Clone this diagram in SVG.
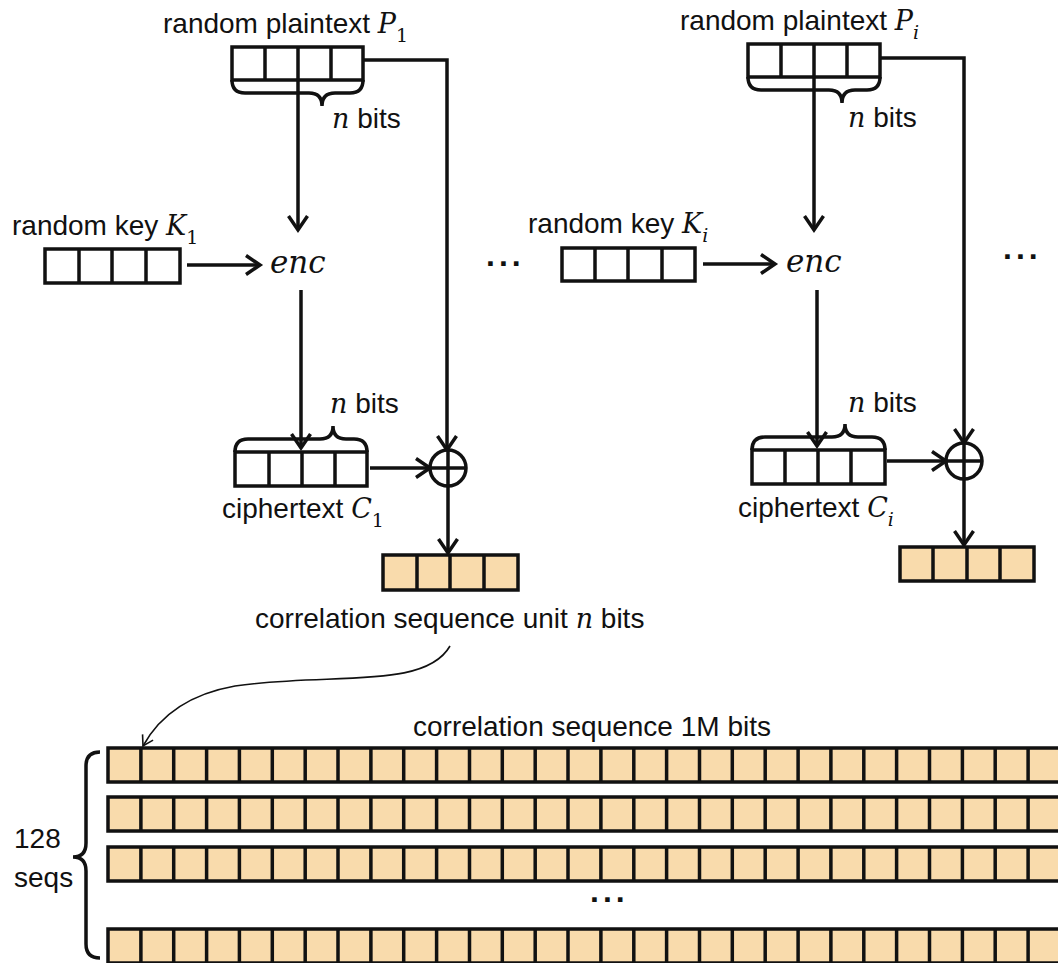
<svg xmlns="http://www.w3.org/2000/svg" xmlns:xlink="http://www.w3.org/1999/xlink" width="1058" height="963" viewBox="0 0 1058 963">
<style>
.t{font-family:"Liberation Sans",Arial,sans-serif;font-size:28px;fill:#111}
.m{font-family:"DejaVu Serif","Liberation Serif",serif;font-style:italic;font-size:27px}
.sub{font-family:"DejaVu Serif","Liberation Serif",serif;font-size:19px}
.box{fill:#fff;stroke:#111;stroke-width:3.5}
.obox{fill:#F9DBAC;stroke:#111;stroke-width:3.5}
.ln{fill:none;stroke:#111;stroke-width:3.5}
.thin{fill:none;stroke:#111;stroke-width:1.6}
.dots{font-family:"Liberation Sans",Arial,sans-serif;font-size:32px;font-weight:bold;letter-spacing:4px;fill:#111}
</style>
<defs>
<marker id="ah" markerUnits="userSpaceOnUse" markerWidth="24" markerHeight="24" refX="16" refY="10" orient="auto" overflow="visible">
<path d="M2,0.5 L16,10 L2,19.5" fill="none" stroke="#111" stroke-width="3.5"/>
</marker>
<marker id="ahs" markerUnits="userSpaceOnUse" markerWidth="16" markerHeight="16" refX="11" refY="7" orient="auto" overflow="visible">
<path d="M1,1 L11,7 L1,13" fill="none" stroke="#111" stroke-width="1.6"/>
</marker>
<g id="row">
<rect x="108" y="0" width="960" height="34" class="obox"/>
<path class="ln" d="M140.9,0V34M173.7,0V34M206.6,0V34M239.4,0V34M272.3,0V34M305.2,0V34M338,0V34M370.9,0V34M403.7,0V34M436.6,0V34M469.5,0V34M502.3,0V34M535.2,0V34M568,0V34M600.9,0V34M633.8,0V34M666.6,0V34M699.5,0V34M732.3,0V34M765.2,0V34M798.1,0V34M830.9,0V34M863.8,0V34M896.6,0V34M929.5,0V34M962.4,0V34M995.2,0V34M1028.1,0V34"/>
</g>
</defs>

<g id="connectors">
<path class="ln" d="M298,80 V230" marker-end="url(#ah)"/>
<path class="ln" d="M363,60 H447 V450" marker-end="url(#ah)"/>
<path class="ln" d="M187,265 H260" marker-end="url(#ah)"/>
<path class="ln" d="M301,290 V448" marker-end="url(#ah)"/>
<path class="ln" d="M370,468 H430" marker-end="url(#ah)"/>
<path class="ln" d="M448,486 V553" marker-end="url(#ah)"/>

<path class="ln" d="M814,77 V230" marker-end="url(#ah)"/>
<path class="ln" d="M880,58 H964 V443" marker-end="url(#ah)"/>
<path class="ln" d="M703,264 H775" marker-end="url(#ah)"/>
<path class="ln" d="M817,290 V446" marker-end="url(#ah)"/>
<path class="ln" d="M887,461 H946" marker-end="url(#ah)"/>
<path class="ln" d="M964,479 V545" marker-end="url(#ah)"/>

<path class="thin" d="M450,646 C425,690 330,672 235,686 C190,694 160,715 143,746" marker-end="url(#ahs)"/>
</g>

<g id="plaintext1">
<text class="t" x="163" y="33">random plaintext <tspan class="m">P</tspan><tspan class="sub" dy="9">1</tspan></text>
<rect x="232" y="47" width="131" height="33" class="box"/>
<path class="ln" d="M265,47V80M298,47V80M331,47V80"/>
<path class="ln" d="M232,80 Q232,93 245,93 L309,93 Q322,93 322,106 Q322,93 335,93 L350,93 Q363,93 363,80"/>
<text class="t" x="332" y="128"><tspan class="m">n</tspan> bits</text>
</g>

<g id="key1">
<text class="t" x="12" y="235">random key <tspan class="m">K</tspan><tspan class="sub" dy="9">1</tspan></text>
<rect x="45" y="249" width="135" height="34" class="box"/>
<path class="ln" d="M79,249V283M112,249V283M146,249V283"/>
</g>

<g id="enc1"><text class="t m" x="270" y="273" style="font-size:31px">enc</text></g>

<g id="cipher1">
<rect x="235" y="452" width="132" height="34" class="box"/>
<path class="ln" d="M269,452V486M302,452V486M335,452V486"/>
<path class="ln" d="M235,452 Q235,439 248,439 L320,439 Q333,439 333,426 Q333,439 346,439 L354,439 Q367,439 367,452"/>
<text class="t" x="330" y="413"><tspan class="m">n</tspan> bits</text>
<text class="t" x="222" y="518">ciphertext <tspan class="m">C</tspan><tspan class="sub" dy="9">1</tspan></text>
</g>

<g id="xor1">
<circle cx="448" cy="468" r="18" class="box"/>
<path class="ln" d="M430,468H466M448,450V486"/>
</g>

<g id="out1">
<rect x="383" y="555" width="135" height="35" class="obox"/>
<path class="ln" d="M417,555V590M450,555V590M484,555V590"/>
</g>

<g id="plaintexti">
<text class="t" x="680" y="30">random plaintext <tspan class="m">P</tspan><tspan class="sub m" style="font-size:19px" dy="9">i</tspan></text>
<rect x="748" y="44" width="132" height="33" class="box"/>
<path class="ln" d="M781,44V77M814,44V77M847,44V77"/>
<path class="ln" d="M748,77 Q748,90 761,90 L829,90 Q842,90 842,103 Q842,90 855,90 L867,90 Q880,90 880,77"/>
<text class="t" x="848" y="127"><tspan class="m">n</tspan> bits</text>
</g>

<g id="keyi">
<text class="t" x="528" y="233">random key <tspan class="m">K</tspan><tspan class="sub m" style="font-size:19px" dy="9">i</tspan></text>
<rect x="562" y="248" width="133" height="33" class="box"/>
<path class="ln" d="M595,248V281M628,248V281M662,248V281"/>
</g>

<g id="enci"><text class="t m" x="786" y="272" style="font-size:31px">enc</text></g>

<g id="cipheri">
<rect x="752" y="450" width="133" height="34" class="box"/>
<path class="ln" d="M785,450V484M818,450V484M851,450V484"/>
<path class="ln" d="M752,450 Q752,437 765,437 L832,437 Q845,437 845,424 Q845,437 858,437 L872,437 Q885,437 885,450"/>
<text class="t" x="848" y="412"><tspan class="m">n</tspan> bits</text>
<text class="t" x="738" y="517">ciphertext <tspan class="m">C</tspan><tspan class="sub m" style="font-size:19px" dy="9">i</tspan></text>
</g>

<g id="xori">
<circle cx="964" cy="461" r="18" class="box"/>
<path class="ln" d="M946,461H982M964,443V479"/>
</g>

<g id="outi">
<rect x="900" y="547" width="134" height="34" class="obox"/>
<path class="ln" d="M933,547V581M967,547V581M1000,547V581"/>
</g>

<g id="ellipses">
<text class="dots" x="486" y="266">...</text>
<text class="dots" x="1003" y="259">...</text>
<text class="dots" x="590" y="902">...</text>
</g>

<g id="unitlabel">
<text class="t" x="255" y="628">correlation sequence unit <tspan class="m">n</tspan> bits</text>
</g>

<g id="sequences">
<text class="t" x="413" y="736">correlation sequence 1M bits</text>
<use xlink:href="#row" y="748"/>
<use xlink:href="#row" y="797"/>
<use xlink:href="#row" y="847"/>
<use xlink:href="#row" y="929"/>
<path class="ln" d="M100,752 Q86,752 86,766 L86,843 Q86,857 73,857 Q86,857 86,871 L86,944 Q86,958 100,958"/>
<text class="t" x="14" y="848">128</text>
<text class="t" x="14" y="887">seqs</text>
</g>
</svg>
